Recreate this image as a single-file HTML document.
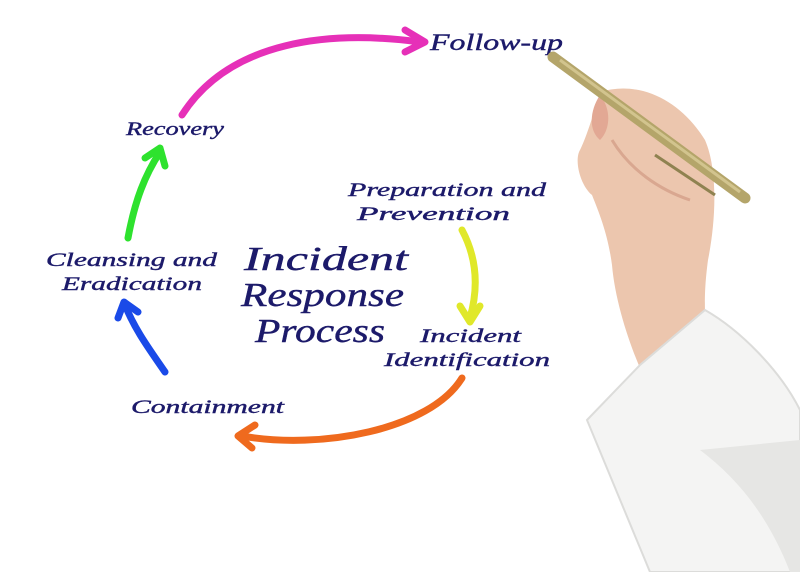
<!DOCTYPE html>
<html><head><meta charset="utf-8"><style>
html,body{margin:0;padding:0;background:#fff;width:800px;height:572px;overflow:hidden}
svg text{font-family:"Liberation Serif",serif;font-style:italic;fill:#1c1a6a;stroke:#1c1a6a;stroke-width:0.4}
</style></head><body>
<svg width="800" height="572" viewBox="0 0 800 572" xmlns="http://www.w3.org/2000/svg">
<g fill="none" stroke-linecap="round" stroke-linejoin="round" stroke-width="7">
<path d="M182 115 C230 40 330 30 420 42" stroke="#e630b8"/>
<path d="M405 30 L425 42 L405 52" stroke="#e630b8"/>
<path d="M128 238 C135 200 145 175 160 152" stroke="#2ee22e"/>
<path d="M145 158 L160 148 L165 166" stroke="#2ee22e"/>
<path d="M165 372 C150 350 135 330 125 305" stroke="#1a4ae8"/>
<path d="M118 318 L124 302 L138 312" stroke="#1a4ae8"/>
<path d="M462 378 C430 430 320 450 242 436" stroke="#ef6a1e"/>
<path d="M255 425 L238 436 L252 448" stroke="#ef6a1e"/>
<path d="M462 230 C478 260 478 290 470 318" stroke="#e0e82a"/>
<path d="M460 306 L470 322 L480 306" stroke="#e0e82a"/>
</g>
<text x="430" y="50" font-size="23" textLength="133" lengthAdjust="spacingAndGlyphs">Follow-up</text>
<text x="126" y="135" font-size="19" textLength="98" lengthAdjust="spacingAndGlyphs">Recovery</text>
<text x="348" y="196" font-size="19" textLength="198" lengthAdjust="spacingAndGlyphs">Preparation and</text>
<text x="357" y="220" font-size="19" textLength="153" lengthAdjust="spacingAndGlyphs">Prevention</text>
<text x="46" y="266" font-size="19" textLength="171" lengthAdjust="spacingAndGlyphs">Cleansing and</text>
<text x="62" y="290" font-size="19" textLength="140" lengthAdjust="spacingAndGlyphs">Eradication</text>
<text x="244" y="270" font-size="34" textLength="164" lengthAdjust="spacingAndGlyphs">Incident</text>
<text x="241" y="306" font-size="34" textLength="163" lengthAdjust="spacingAndGlyphs">Response</text>
<text x="255" y="342" font-size="34" textLength="130" lengthAdjust="spacingAndGlyphs">Process</text>
<text x="420" y="342" font-size="19" textLength="101" lengthAdjust="spacingAndGlyphs">Incident</text>
<text x="384" y="366" font-size="19" textLength="166" lengthAdjust="spacingAndGlyphs">Identification</text>
<text x="131" y="413" font-size="19" textLength="153" lengthAdjust="spacingAndGlyphs">Containment</text>
<!-- hand -->
<path d="M600 92 C640 80 680 100 705 140 C718 170 716 220 708 260 C704 290 705 305 705 315 L640 368 C628 340 615 300 612 265 C608 235 600 215 592 195 C580 185 574 160 580 150 C585 140 592 120 600 92 Z" fill="#ecc6ae"/>
<path d="M600 95 C590 110 588 130 600 140 C610 130 612 110 600 95 Z" fill="#e2a894"/>
<path d="M612 140 C630 170 660 190 690 200" stroke="#d9a790" stroke-width="3" fill="none"/>
<!-- pen -->
<path d="M553 57 L745 198" stroke="#b4a56a" stroke-width="11" stroke-linecap="round"/>
<path d="M560 60 L740 192" stroke="#d2c48e" stroke-width="3"/>
<path d="M655 155 L715 195" stroke="#8f8250" stroke-width="3"/>
<!-- sleeve -->
<path d="M587 420 L640 365 L705 310 C740 330 780 370 800 410 L800 572 L650 572 Z" fill="#f4f4f3"/>
<path d="M587 420 L640 365 L705 310 C740 330 780 370 800 410 L800 572 L650 572 Z" fill="none" stroke="#dcdcda" stroke-width="2"/>
<path d="M700 450 C740 480 770 520 790 572 L800 572 L800 440 Z" fill="#e6e6e4"/>
</svg>
</body></html>
